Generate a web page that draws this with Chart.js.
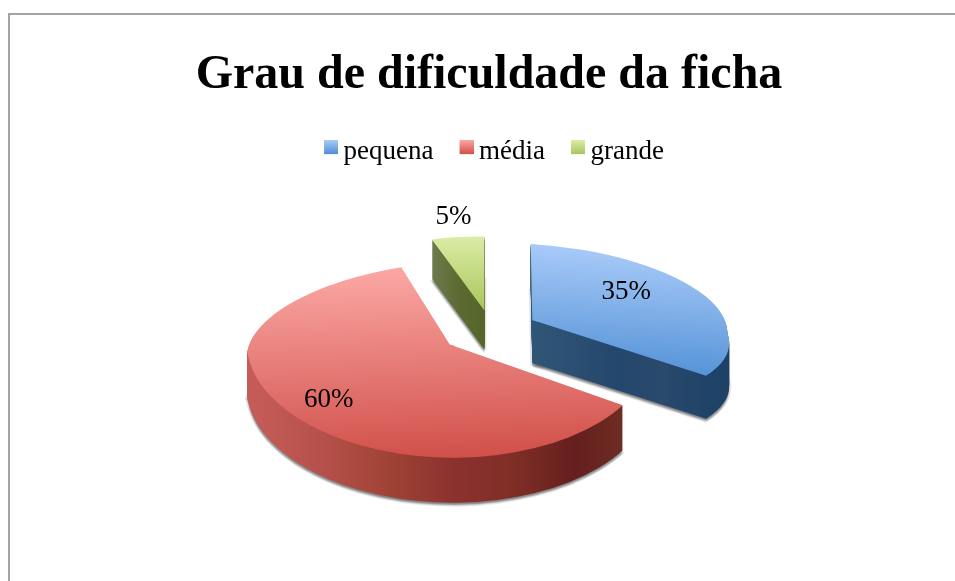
<!DOCTYPE html>
<html><head><meta charset="utf-8">
<style>
html,body{margin:0;padding:0;background:#fff;overflow:hidden;width:955px;height:581px}
#frame{position:absolute;left:8px;top:13px;width:960px;height:568px;border-left:2px solid #a3a3a3;border-top:2px solid #a3a3a3;overflow:hidden}
canvas{display:block}
</style>
<script src="https://cdn.jsdelivr.net/npm/chart.js@4"></script>
</head><body>
<div id="frame"><canvas id="c" width="958" height="566" style="width:958px;height:566px"></canvas></div>
<script>
const chartTitle = 'Grau de dificuldade da ficha';
const categories = ['pequena', 'média', 'grande'];
const values = [35, 60, 5];
const baseColors = ['#6fa3e0', '#e5716b', '#bfd878'];
const FONT = '"Liberation Serif"';
const RADIUS = 200, EXPLODE = 48.6;

// Look of each slice: a flat affine projection of the library's arc (3-D tilt).
const slices = [
 { nudge:[0,0], depth:43, a:.975, t:.06, top:[.008,.38], bot:[.136,.392],
   face:[-76,56,['#a8caf8','#4f8fd5']], side:[0,195,['#2f5677','#2b4f72','#24476d','#2b4a6c','#1f4368','#1f4166']], label:[94,-28] },
 { nudge:[0,0], depth:45, a:1.012, t:-.035, top:[-.074,.417], bot:[.08,.565],
   face:[-78,113,['#fba7a4','#d1504a']], side:[-200,174,['#c65c58','#b5504a','#a04335','#8c322e','#7f2e26','#651f1e','#6f3024']], label:[-121,55] },
 { nudge:[3,0], depth:39, a:.85, t:.011, top:[0,.37], bot:[0,.37],
   face:[-74,0,['#dbeca6','#a9c65c']], side:[-51,0,['#6c7a4c','#5c6a32','#55652a']], label:[-31,-94] }
];

const canvas = document.getElementById('c');

function swatch(i){
  const c = document.createElement('canvas'); c.width = 22; c.height = 24;
  const g = c.getContext('2d');
  const lg = g.createLinearGradient(0,0,0,14);
  lg.addColorStop(0, slices[i].face[2][0]); lg.addColorStop(1, slices[i].face[2][1]);
  g.fillStyle = lg; g.fillRect(8,0,14,14);
  return c;
}

function vGrad(ctx, y1, y2, cols){
  const g = ctx.createLinearGradient(0,y1,0,y2);
  cols.forEach((c,i)=>g.addColorStop(i/(cols.length-1),c)); return g;
}
function hGrad(ctx, x1, x2, cols){
  const g = ctx.createLinearGradient(x1,0,x2,0);
  cols.forEach((c,i)=>g.addColorStop(i/(cols.length-1),c)); return g;
}
function apexOf(el, s, offset){
  const mid = (el.startAngle + el.endAngle)/2;
  const ox = Math.cos(mid)*offset, oy = Math.sin(mid)*offset;
  const d = oy < 0 ? s.top[1] : s.bot[1];
  return [el.x + ox + s.nudge[0], el.y + oy*d + s.nudge[1]];
}
function drawHalf(ctx, el, s, apex, half, dx, dy, paint){
  const [c,d] = half === 'top' ? s.top : s.bot;
  ctx.save();
  ctx.translate(apex[0]+dx, apex[1]+dy);
  ctx.transform(s.a, s.t, c, d, 0, 0);
  ctx.beginPath();
  if (half === 'top') ctx.rect(-2000,-2000,4000,2004); else ctx.rect(-2000,0,4000,2000);
  ctx.clip();
  ctx.translate(-el.x, -el.y);
  const orig = el.options;
  el.options = Object.assign({}, orig, {offset:0, borderWidth:0, backgroundColor: paint(d)});
  el.draw(ctx);
  el.options = orig;
  ctx.restore();
}
const tilted3D = {
  id:'tilted3D',
  afterLayout(chart){ chart.legend.left += 5; chart.legend.right += 5; },
  beforeDatasetDraw(chart){
    const ctx = chart.ctx, arcs = chart.getDatasetMeta(0).data;
    [2,1,0].forEach(i=>{
      const el = arcs[i], s = slices[i], apex = apexOf(el, s, EXPLODE);
      // soft drop shadow
      [[0,4,.12],[2,2,.16],[-2,2,.16],[0,3,.2],[0,2,.25],[0,1,.3]].forEach(([dx,dy,al])=>{
        ['top','bot'].forEach(h=>drawHalf(ctx,el,s,apex,h,dx,s.depth+dy,()=>`rgba(90,90,90,${al})`));
      });
      // extruded side
      const sideFill = () => hGrad(ctx, el.x + s.side[0]/s.a, el.x + s.side[1]/s.a, s.side[2]);
      for (let k = s.depth; k >= 1; k--) {
        ['top','bot'].forEach(h=>drawHalf(ctx,el,s,apex,h,0,k,sideFill));
      }
      // upper face
      const faceFill = d => vGrad(ctx, el.y + s.face[0]/d, el.y + s.face[1]/d, s.face[2]);
      ['top','bot'].forEach(h=>drawHalf(ctx,el,s,apex,h,0,0,faceFill));
    });
    return false;
  },
  afterDatasetsDraw(chart){
    const ctx = chart.ctx, meta = chart.getDatasetMeta(0), arcs = meta.data;
    ctx.save();
    ctx.font = '27px '+FONT; ctx.fillStyle = '#000';
    ctx.textAlign = 'center'; ctx.textBaseline = 'middle';
    arcs.forEach((el,i)=>{
      const apex = apexOf(el, slices[i], EXPLODE);
      const pct = Math.round(values[i]/meta.total*100)+'%';
      ctx.fillText(pct, apex[0]+slices[i].label[0], apex[1]+slices[i].label[1]);
    });
    ctx.restore();
  }
};

new Chart(canvas, {
  type:'pie',
  data:{ labels:categories, datasets:[{ data:values, backgroundColor:baseColors, borderWidth:0 }] },
  plugins:[tilted3D],
  options:{
    responsive:false, animation:false, radius:RADIUS,
    layout:{ padding:{ bottom:100 } },
    plugins:{
      tooltip:{enabled:false},
      title:{ display:true, text:chartTitle, color:'#000',
        font:{family:FONT, size:48, weight:'bold'}, padding:{top:32,bottom:8} },
      legend:{ position:'top',
        labels:{ color:'#000', font:{family:FONT,size:27}, usePointStyle:true, boxWidth:6, boxHeight:6, padding:26,
          generateLabels(chart){
            return Chart.overrides.doughnut.plugins.legend.labels.generateLabels(chart)
              .map((l,i)=>Object.assign(l,{pointStyle:swatch(i)}));
          } } }
    }
  }
});
</script>
</body></html>
